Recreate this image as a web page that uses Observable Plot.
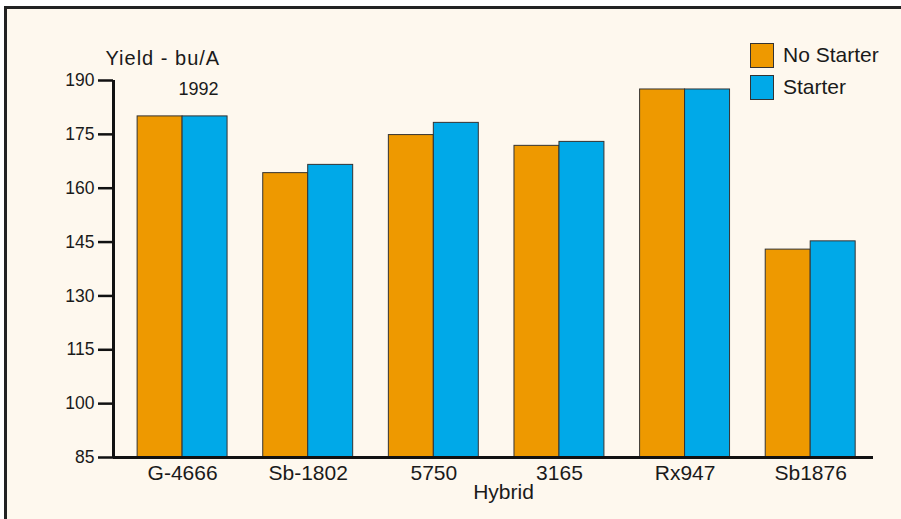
<!DOCTYPE html>
<html><head><meta charset="utf-8">
<script src="https://cdn.jsdelivr.net/npm/d3@7"></script>
<script src="https://cdn.jsdelivr.net/npm/@observablehq/plot@0.6"></script>
<style>
html,body{margin:0;padding:0;background:#fff;overflow:hidden;width:901px;height:519px;font-family:"Liberation Sans",Arial,sans-serif;}
#frame{position:absolute;left:4px;top:6px;width:894px;height:513px;background:#fef8ee;border-top:3px solid #222;border-left:3px solid #222;}
#chart{position:absolute;left:0;top:0;}
#legend{position:absolute;left:750px;top:39px;}
.item{display:flex;align-items:center;height:32px;font-size:21px;color:#1a1a1a;}
.sw{width:22px;height:23px;border:1px solid #333;margin-right:9px;box-sizing:content-box;}
</style></head><body>
<div id="frame"></div><div id="chart"></div><div id="legend"></div>
<script>
const hybrids = ["G-4666","Sb-1802","5750","3165","Rx947","Sb1876"];
const noStarter = [180.0,164.2,174.8,171.8,187.5,142.9];
const starter = [180.0,166.5,178.2,172.9,187.5,145.2];
const series = ["No Starter","Starter"];
const colors = ["#ee9900","#00a9e8"];
const yTicks = [85,100,115,130,145,160,175,190];
const yLabel = "Yield - bu/A";
const yearLabel = "1992";
const xLabel = "Hybrid";

const half = 0.358;
const rows = [];
hybrids.forEach((h,i)=>{
  rows.push({hybrid:h,i,series:series[0],value:noStarter[i],x1:i-half,x2:i});
  rows.push({hybrid:h,i,series:series[1],value:starter[i],x1:i,x2:i+half});
});

const chart = Plot.plot({
  width:901,height:519,
  marginLeft:113,marginRight:28,marginTop:80,marginBottom:62,
  style:{background:"transparent",fontFamily:"'Liberation Sans',Arial,sans-serif",color:"#1a1a1a"},
  x:{type:"linear",domain:[-0.55,5.5],axis:null},
  y:{domain:[85,190],axis:null},
  color:{domain:series,range:colors},
  marks:[
    Plot.rect(rows,{x1:"x1",x2:"x2",y1:()=>85,y2:"value",fill:"series",stroke:"#333",strokeWidth:1}),
    Plot.axisY({ticks:yTicks,tickSize:15,tickPadding:4,strokeWidth:2.5,stroke:"#111",fontSize:17.5,fill:"#1a1a1a",label:null}),
    Plot.axisX({ticks:hybrids.map((d,i)=>i),tickFormat:i=>hybrids[i],tickSize:0,tickPadding:8,fontSize:21,fill:"#1a1a1a",label:null}),
    Plot.ruleY([85],{stroke:"#111",strokeWidth:3}),
    Plot.ruleX([-0.55],{y1:85,y2:190,stroke:"#111",strokeWidth:3}),
    Plot.text([xLabel],{frameAnchor:"bottom",dx:10,dy:41,fontSize:21,fill:"#1a1a1a"}),
    Plot.text([yLabel],{frameAnchor:"top-left",textAnchor:"start",dx:-8,dy:-30,fontSize:20,fill:"#1a1a1a"}),
    Plot.text([yearLabel],{frameAnchor:"top-left",textAnchor:"start",dx:65,dy:2,fontSize:18,fill:"#1a1a1a"})
  ]
});
document.getElementById("chart").appendChild(chart);
chart.querySelectorAll("text").forEach(t=>{ if(t.textContent===yLabel) t.style.letterSpacing="1px"; });

const lg = document.getElementById("legend");
series.forEach((s,k)=>{
  const it = document.createElement("div"); it.className="item";
  const sw = document.createElement("div"); sw.className="sw"; sw.style.background=colors[k];
  const tx = document.createElement("span"); tx.textContent=s;
  it.appendChild(sw); it.appendChild(tx); lg.appendChild(it);
});
</script>
</body></html>
